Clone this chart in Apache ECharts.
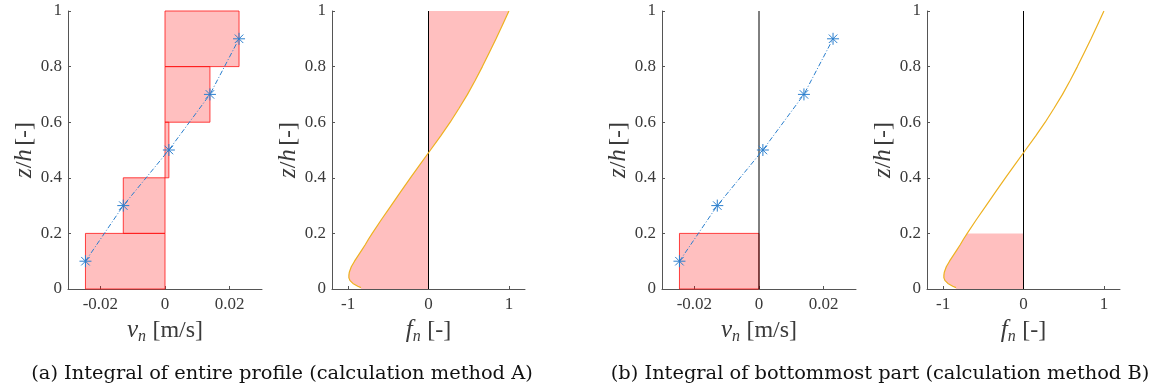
<!DOCTYPE html>
<html>
<head>
<meta charset="utf-8">
<script src="https://cdn.jsdelivr.net/npm/echarts@6/dist/echarts.min.js"></script>
<style>
  html, body { margin: 0; padding: 0; background: #ffffff; }
  #chart { width: 1153px; height: 389px; }
</style>
</head>
<body>
<div id="chart"></div>
<script>
// Measurement heights (z/h) and measured normal velocity v_n [m/s]
const zLevels = [0.1, 0.3, 0.5, 0.7, 0.9];
const vn = [-0.0246, -0.0129, 0.0012, 0.0139, 0.0229];
// Integration bins (z/h) belonging to each measurement
const binEdges = [0, 0.2, 0.4, 0.6, 0.8, 1.0];
// Bottommost bin used in method B
const bottomBin = 0;

// Normalised profile f_n(z/h)
const zProfile = [0.005, 0.01, 0.02, 0.03, 0.04, 0.05, 0.06, 0.08, 0.10, 0.12, 0.14, 0.16, 0.18, 0.20,
                  0.25, 0.30, 0.35, 0.40, 0.45, 0.50, 0.55, 0.60, 0.65, 0.70, 0.75, 0.80, 0.85, 0.90, 0.95, 1.00];
const fnProfile = [-0.84, -0.88, -0.94, -0.975, -0.99, -0.99, -0.985, -0.96, -0.92, -0.875, -0.83, -0.785, -0.745, -0.70,
                   -0.585, -0.465, -0.345, -0.225, -0.10, 0.025, 0.15, 0.27, 0.38, 0.485, 0.58, 0.67, 0.755, 0.84, 0.92, 1.00];

// Axis ranges and tick labels
const zTicks = [0, 0.2, 0.4, 0.6, 0.8, 1];
const zTickLabels = ['0', '0.2', '0.4', '0.6', '0.8', '1'];
const vTicks = [-0.02, 0, 0.02];
const vTickLabels = ['-0.02', '0', '0.02'];
const fTicks = [-1, 0, 1];
const fTickLabels = ['-1', '0', '1'];
const vRange = [-0.03, 0.03];
const fRange = [-1.2, 1.2];

const captions = [
  '(a) Integral of entire profile (calculation method A)',
  '(b) Integral of bottommost part (calculation method B)'
];

const chart = echarts.init(document.getElementById('chart'), null, { renderer: 'canvas' });

const SERIF = 'Liberation Serif';
const AXIS_COLOR = '#555555';
const TEXT_COLOR = '#3a3a3a';
const BLUE = '#2b7fce';
const ORANGE = '#EDB120';
const FILL = 'rgba(255,0,0,0.25)';
const EDGE = 'rgba(255,20,20,0.8)';

const grids = [
  { left: 68, top: 11, width: 194, height: 278 },
  { left: 332, top: 11, width: 193, height: 278 },
  { left: 662, top: 11, width: 194, height: 278 },
  { left: 927, top: 11, width: 193, height: 278 }
].map(g => Object.assign({ outerBoundsMode: 'none', containLabel: false }, g));

function labelFor(ticks, labels) {
  return v => {
    for (let i = 0; i < ticks.length; i++) {
      if (Math.abs(v - ticks[i]) < 1e-9) return labels[i];
    }
    return '';
  };
}

const nameRich = {
  i: { fontFamily: SERIF, fontStyle: 'italic', fontSize: 25, color: TEXT_COLOR },
  r: { fontFamily: SERIF, fontSize: 24, color: TEXT_COLOR },
  s: { fontFamily: SERIF, fontStyle: 'italic', fontSize: 16, color: TEXT_COLOR, padding: [12, 3, 0, 0] }
};

function makeX(gridIndex, range, ticks, labels, nameText) {
  return {
    type: 'value', gridIndex,
    min: range[0], max: range[1],
    axisLine: { show: true, onZero: false, lineStyle: { color: AXIS_COLOR, width: 1 } },
    axisTick: { show: true, inside: true, length: 3, customValues: ticks, lineStyle: { color: AXIS_COLOR } },
    axisLabel: { customValues: ticks, formatter: labelFor(ticks, labels), fontFamily: SERIF, fontSize: 17, color: TEXT_COLOR, margin: 7 },
    splitLine: { show: false },
    name: nameText, nameLocation: 'middle', nameGap: 27,
    nameTextStyle: { rich: nameRich }
  };
}

function makeY(gridIndex) {
  return {
    type: 'value', gridIndex,
    min: 0, max: 1, interval: 0.2,
    axisLine: { show: true, onZero: false, lineStyle: { color: AXIS_COLOR, width: 1 } },
    axisTick: { show: true, inside: true, length: 3, lineStyle: { color: AXIS_COLOR } },
    axisLabel: { formatter: labelFor(zTicks, zTickLabels), fontFamily: SERIF, fontSize: 17, color: TEXT_COLOR, margin: 6 },
    splitLine: { show: false },
    name: '{i|z}{r|/}{i|h} {r|[-]}', nameLocation: 'middle', nameGap: 30, nameRotate: 90,
    nameTextStyle: { rich: nameRich }
  };
}

const vName = '{i|v}{s|n} {r|[m/s]}';
const fName = '{i|f}{s|n} {r|[-]}';

// Rectangles of the piecewise-constant integral: [v, zLow, zHigh]
function binRects(indices) {
  return indices.map(i => [vn[i], binEdges[i], binEdges[i + 1]]);
}

function rectSeries(axisIndex, data) {
  return {
    type: 'custom', xAxisIndex: axisIndex, yAxisIndex: axisIndex,
    data, encode: { x: 0, y: [1, 2] }, silent: true, z: 1,
    renderItem: (params, api) => {
      const a = api.coord([0, api.value(2)]);
      const b = api.coord([api.value(0), api.value(1)]);
      return {
        type: 'rect',
        shape: { x: Math.min(a[0], b[0]), y: Math.min(a[1], b[1]), width: Math.abs(b[0] - a[0]), height: Math.abs(b[1] - a[1]) },
        style: { fill: FILL, stroke: EDGE, lineWidth: 1 }
      };
    }
  };
}

// Shaded area between the profile and f = 0, up to zTop
function profileFill(axisIndex, zTop) {
  const pts = [];
  for (let i = 0; i < zProfile.length; i++) {
    if (zProfile[i] <= zTop + 1e-9) pts.push([fnProfile[i], zProfile[i]]);
  }
  return {
    type: 'custom', xAxisIndex: axisIndex, yAxisIndex: axisIndex,
    data: [[0, zProfile[0]], [0, zTop]], encode: { x: 0, y: 1 }, silent: true, z: 1,
    renderItem: (params, api) => {
      if (params.dataIndex !== 0) return null;
      const poly = pts.map(p => api.coord(p));
      const last = pts[pts.length - 1];
      poly.push(api.coord([0, last[1]]));
      poly.push(api.coord([0, 0]));
      poly.push(api.coord([pts[0][0], 0]));
      return { type: 'polygon', shape: { points: poly }, style: { fill: FILL } };
    }
  };
}

function profileLine(axisIndex) {
  return {
    type: 'line', xAxisIndex: axisIndex, yAxisIndex: axisIndex,
    data: zProfile.map((z, i) => [fnProfile[i], z]),
    showSymbol: false, smooth: false, silent: true, z: 3,
    lineStyle: { color: ORANGE, width: 1.2 }
  };
}

function zeroLine(axisIndex) {
  return {
    type: 'line', xAxisIndex: axisIndex, yAxisIndex: axisIndex,
    data: [[0, 0], [0, 1]], showSymbol: false, silent: true, z: 2,
    lineStyle: { color: '#000000', width: 1 }
  };
}

const ASTERISK = 'path://M0,-10L0,10M-10,0L10,0M-7.07,-7.07L7.07,7.07M-7.07,7.07L7.07,-7.07';

function measurementSeries(axisIndex) {
  return {
    type: 'line', xAxisIndex: axisIndex, yAxisIndex: axisIndex,
    data: zLevels.map((z, i) => [vn[i], z]),
    symbol: ASTERISK, symbolSize: 12, showSymbol: true, silent: true, z: 4,
    itemStyle: { color: 'rgba(0,0,0,0)', borderColor: BLUE, borderWidth: 1 },
    lineStyle: { color: BLUE, width: 1, type: [5, 2, 1, 2] }
  };
}

const CAPTION_STYLE = { fontFamily: 'DejaVu Serif', fontWeight: 'normal', fontSize: 19.4, color: '#111111' };

const option = {
  backgroundColor: '#ffffff',
  animation: false,
  grid: grids,
  xAxis: [
    makeX(0, vRange, vTicks, vTickLabels, vName),
    makeX(1, fRange, fTicks, fTickLabels, fName),
    makeX(2, vRange, vTicks, vTickLabels, vName),
    makeX(3, fRange, fTicks, fTickLabels, fName)
  ],
  yAxis: [makeY(0), makeY(1), makeY(2), makeY(3)],
  title: [
    { text: captions[0], left: 277, top: 359, textAlign: 'center', textStyle: CAPTION_STYLE },
    { text: captions[1], left: 875, top: 359, textAlign: 'center', textStyle: CAPTION_STYLE }
  ],
  series: [
    rectSeries(0, binRects([0, 1, 2, 3, 4])),
    measurementSeries(0),
    profileFill(1, 1.0),
    zeroLine(1),
    profileLine(1),
    rectSeries(2, binRects([bottomBin])),
    zeroLine(2),
    measurementSeries(2),
    profileFill(3, binEdges[bottomBin + 1]),
    zeroLine(3),
    profileLine(3)
  ]
};

chart.setOption(option);
</script>
</body>
</html>
